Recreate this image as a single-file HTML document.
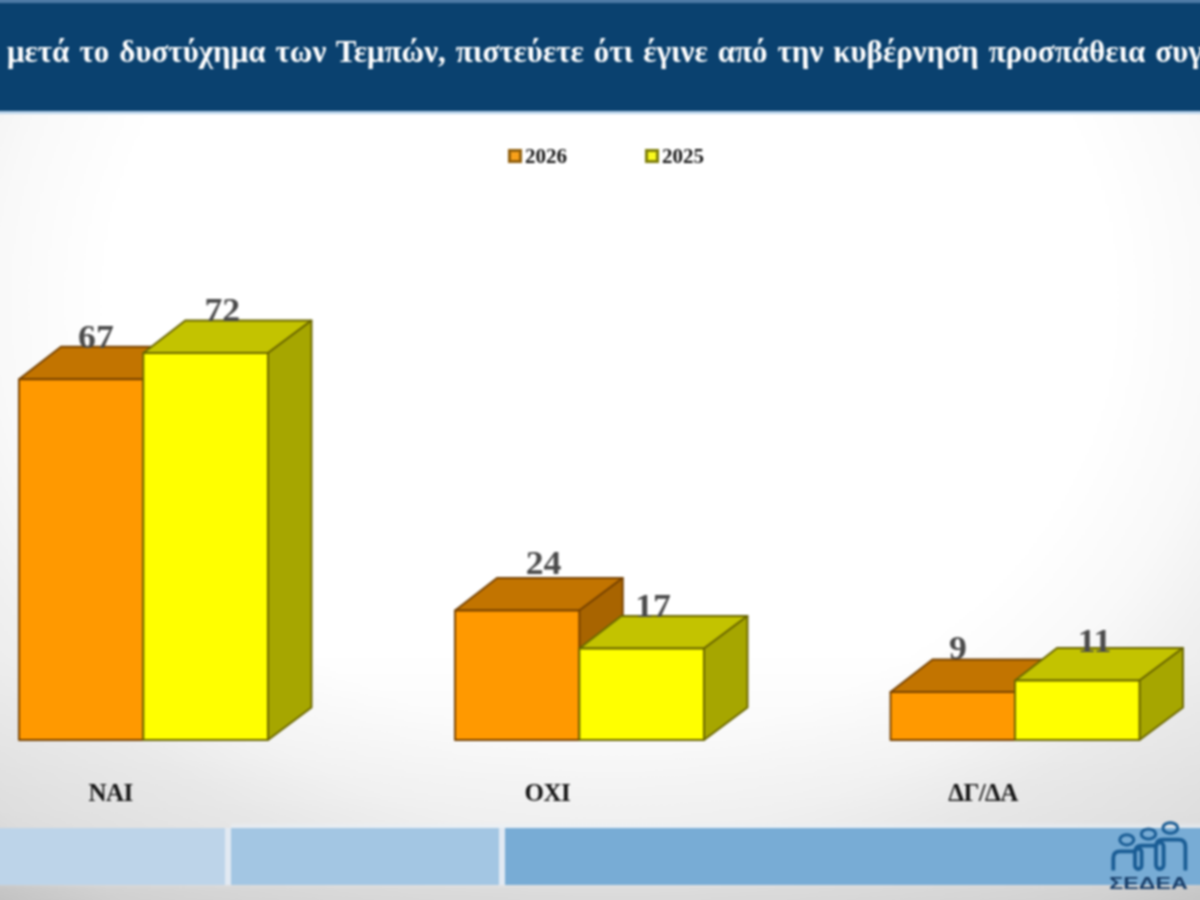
<!DOCTYPE html>
<html lang="el">
<head>
<meta charset="utf-8">
<title>ΣΕΔΕΑ – Έρευνα</title>
<style>
  html, body { margin: 0; padding: 0; }
  body { width: 1200px; height: 900px; overflow: hidden; position: relative;
         font-family: "Liberation Serif", serif; background: #ffffff; }
  .page { position: absolute; left: 0; top: 0; width: 1200px; height: 900px; overflow: hidden; }
  /* soft wrapper is larger than the viewport so the blur never fades at the page edges */
  .soft { position: absolute; left: -20px; top: -20px; width: 1240px; height: 940px;
          filter: blur(0.9px);
          background:
            linear-gradient(to bottom, rgba(0,0,0,0) 0px, rgba(0,0,0,0) 670px, rgba(0,0,0,0.03) 800px, rgba(0,0,0,0.04) 847px, rgba(0,0,0,0.06) 905px, rgba(0,0,0,0.085) 908px, rgba(0,0,0,0.105) 940px),
            radial-gradient(ellipse 900px 780px at 630px 320px, #ffffff 0%, #ffffff 56%, #f9f9f9 68%, #f0f0f0 77%, #eaeaea 88%, #e6e6e6 94%, #d6d6d6 103%, #c6c6c6 115%),
            #c6c6c6; }
  .canvas { position: absolute; left: 20px; top: 20px; width: 1200px; height: 900px; }
  .topstrip { position: absolute; left: -20px; top: -20px; width: 1240px; height: 23px; background: #4f7ba6; }
  .header { position: absolute; left: -20px; top: 3px; width: 1240px; height: 108px; background: #0a416f; overflow: hidden; }
  .header h1 { position: absolute; left: 27px; top: 29px; margin: 0; white-space: nowrap;
               font: bold 31px/40px "Liberation Serif", serif; color: #ffffff; word-spacing: 2.3px; }
  .headline { position: absolute; left: -20px; top: 111px; width: 1240px; height: 3px; background: #b9d3ea; }
  .legend { position: absolute; top: 144px; font: bold 21px/24px "Liberation Serif", serif; color: #141414; white-space: nowrap; }
  .legend i { position: absolute; left: 0; top: 5px; width: 8px; height: 8px; border: 3px solid; }
  .legend span { position: absolute; left: 17.5px; top: 0; }
  .cat { position: absolute; top: 779px; width: 200px; text-align: center;
         font: bold 25px/28px "Liberation Serif", serif; color: #141414; letter-spacing: -0.6px; }
  .band { position: absolute; top: 827.5px; height: 57.5px; }
  .bandbg { position: absolute; left: -20px; width: 1240px; top: 827.5px; height: 57.5px; background: #e1e9f2; }
  .bandhi { position: absolute; left: 231px; width: 989px; top: 822px; height: 6px;
            background: linear-gradient(to bottom, rgba(233,241,249,0), rgba(233,241,249,0.7)); }
  svg { position: absolute; left: 0; top: 0; overflow: visible; }
</style>
</head>
<body>
<div class="page">
  <div class="soft">
    <div class="canvas">
      <div class="topstrip"></div>
      <div class="header"><h1>μετά το δυστύχημα των Τεμπών, πιστεύετε ότι έγινε από την κυβέρνηση προσπάθεια συγ</h1></div>
      <div class="headline"></div>

      <div class="legend" style="left:507.5px"><i style="background:#f9a01a;border-color:#93600c"></i><span>2026</span></div>
      <div class="legend" style="left:644.5px"><i style="background:#fafa1e;border-color:#80800a"></i><span>2025</span></div>

      <svg id="chart" width="1200" height="900" viewBox="0 0 1200 900">
        <g stroke-width="1.9" stroke-linejoin="round">
        <!-- ΝΑΙ -->
        <g stroke="#774200">
          <polygon points="19,379.3 61,346.8 186.8,346.8 143.3,379.3" fill="#c27400"/>
          <polygon points="143.3,379.3 186.8,346.8 186.8,707.5 143.3,740" fill="#a86400"/>
          <rect x="19" y="379.3" width="124.3" height="360.7" fill="#ff9900"/>
        </g>
        <g stroke="#6a6600">
          <polygon points="143.3,353 185.3,320.5 311.5,320.5 268,353" fill="#c3c300"/>
          <polygon points="268,353 311.5,320.5 311.5,707.5 268,740" fill="#a6a600"/>
          <rect x="143.3" y="353" width="124.7" height="387" fill="#ffff00"/>
        </g>
        <!-- ΟΧΙ -->
        <g stroke="#774200">
          <polygon points="455,610.5 497,578.0 622.8,578.0 579.3,610.5" fill="#c27400"/>
          <polygon points="579.3,610.5 622.8,578.0 622.8,707.5 579.3,740" fill="#a86400"/>
          <rect x="455" y="610.5" width="124.3" height="129.5" fill="#ff9900"/>
        </g>
        <g stroke="#6a6600">
          <polygon points="579.3,648.5 621.3,616.0 747.5,616.0 704,648.5" fill="#c3c300"/>
          <polygon points="704,648.5 747.5,616.0 747.5,707.5 704,740" fill="#a6a600"/>
          <rect x="579.3" y="648.5" width="124.7" height="91.5" fill="#ffff00"/>
        </g>
        <!-- ΔΓ/ΔΑ -->
        <g stroke="#774200">
          <polygon points="890.5,692 932.5,659.5 1058.5,659.5 1015,692" fill="#c27400"/>
          <polygon points="1015,692 1058.5,659.5 1058.5,707.5 1015,740" fill="#a86400"/>
          <rect x="890.5" y="692" width="124.5" height="48" fill="#ff9900"/>
        </g>
        <g stroke="#6a6600">
          <polygon points="1015,680.5 1057,648.0 1183.0,648.0 1139.5,680.5" fill="#c3c300"/>
          <polygon points="1139.5,680.5 1183.0,648.0 1183.0,707.5 1139.5,740" fill="#a6a600"/>
          <rect x="1015" y="680.5" width="124.5" height="59.5" fill="#ffff00"/>
        </g>
        </g>
        <g font-family="'Liberation Serif', serif" font-weight="bold" font-size="34" fill="#4a4a4a" text-anchor="middle">
        <text transform="translate(95.9,347.8) scale(1.05,1)">67</text>
        <text transform="translate(222.3,320.6) scale(1.05,1)">72</text>
        <text transform="translate(543.5,573.6) scale(1.05,1)">24</text>
        <text transform="translate(653.0,616.6) scale(1.05,1)">17</text>
        <text transform="translate(958,659.3) scale(1.05,1)">9</text>
        <text transform="translate(1094.5,651.6) scale(1.05,1)">11</text>
        </g>
      </svg>

      <div class="cat" style="left:10.6px">ΝΑΙ</div>
      <div class="cat" style="left:447.3px">ΟΧΙ</div>
      <div class="cat" style="left:883px">ΔΓ/ΔΑ</div>

      <div class="bandhi"></div>
      <div class="bandbg"></div>
      <div class="band" style="left:-20px;width:244.5px;background:#bdd4e9"></div>
      <div class="band" style="left:231px;width:267.5px;background:#a3c6e3"></div>
      <div class="band" style="left:505px;width:715px;background:#78acd5"></div>

      <svg id="logo" width="1200" height="900" viewBox="0 0 1200 900">
        <g fill="none" stroke="#195c94" stroke-width="3">
          <ellipse cx="1126.8" cy="839.8" rx="7" ry="5.1"/>
          <ellipse cx="1148.5" cy="834" rx="7.2" ry="4.9"/>
          <ellipse cx="1170.3" cy="828" rx="7.4" ry="5.2"/>
        </g>
        <g fill="none" stroke="#195c94" stroke-width="3.8" stroke-linejoin="round">
          <path d="M1113.3,870.5 V858 Q1113.3,851.3 1120,851.3 H1135"/>
          <rect x="1135" y="848.5" width="6.6" height="20.5" rx="3.3" ry="3.6"/>
          <path d="M1135.2,852 Q1135.2,845.6 1141.5,845.6 H1156"/>
          <rect x="1156" y="842.3" width="7.6" height="26.7" rx="3.8" ry="4"/>
          <path d="M1156.2,846 Q1156.2,839.6 1163,839.6 H1178.5 Q1185.4,839.6 1185.4,846.6 V870.5"/>
        </g>
        <text x="1109.3" y="888.6" font-family="'Liberation Sans', sans-serif" font-weight="bold" font-size="16.5" fill="#163c68" textLength="78.6" lengthAdjust="spacingAndGlyphs">ΣΕΔΕΑ</text>
      </svg>
    </div>
  </div>
</div>
</body>
</html>
